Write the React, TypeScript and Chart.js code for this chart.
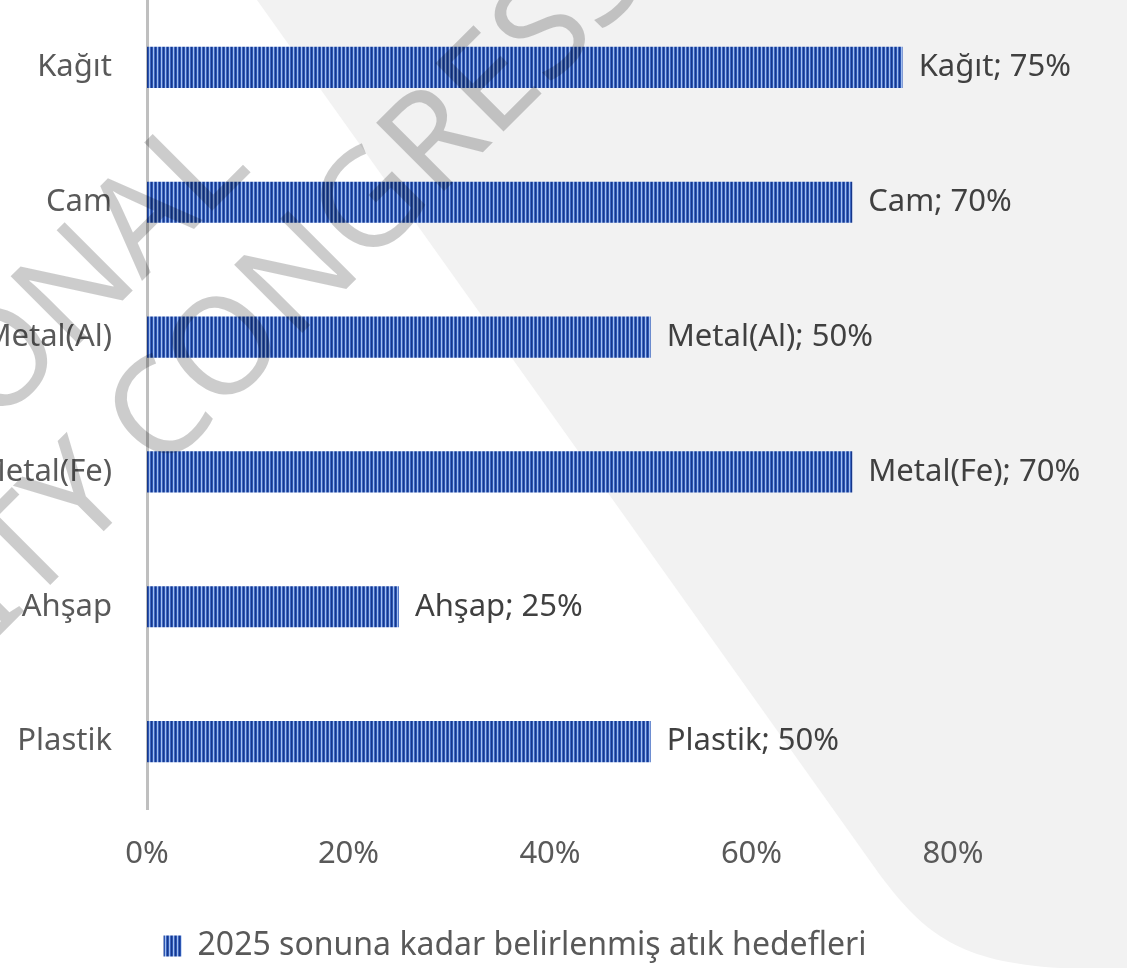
import React, { useEffect, useRef } from "react";
import { Chart, registerables } from "chart.js";

Chart.register(...registerables);

const categories = ["Kağıt", "Cam", "Metal(Al)", "Metal(Fe)", "Ahşap", "Plastik"];
const values = [75, 70, 50, 70, 25, 50];
const seriesLabel = "2025 sonuna kadar belirlenmiş atık hedefleri";
const axisMin = 0;
const axisMax = 80;
const axisStep = 20;
const watermarkLines = ["INTERNATIONAL", "UNIVERSITY CONGRESS"];

const PAGE_W = 1127;
const PAGE_H = 972;
const SHIFT = 97; // canvas starts left of the page (clipped like the source)
const CANVAS_W = PAGE_W + SHIFT;
const FONT = '"Noto Sans", "Open Sans", sans-serif';
const RIGHT_PAD = CANVAS_W - (953 + SHIFT);

function makePattern(): CanvasPattern | string {
  const c = document.createElement("canvas");
  c.width = 4;
  c.height = 1;
  const g = c.getContext("2d");
  if (!g) return "#2c56b3";
  const cols = ["#17378a", "#2c56b3", "#a3bff0", "#3e68c2"];
  cols.forEach((col, i) => {
    g.fillStyle = col;
    g.fillRect(i, 0, 1, 1);
  });
  const ctx = document.createElement("canvas").getContext("2d");
  const p = ctx ? ctx.createPattern(c, "repeat") : null;
  return p || "#2c56b3";
}

const backgroundPlugin = {
  id: "bgShape",
  beforeDraw(chart: any) {
    const ctx = chart.ctx;
    ctx.save();
    ctx.fillStyle = "#ffffff";
    ctx.fillRect(0, 0, chart.width, chart.height);
    ctx.translate(SHIFT, 0);
    ctx.fillStyle = "#f2f2f2";
    ctx.beginPath();
    ctx.moveTo(257, 0);
    ctx.lineTo(PAGE_W, 0);
    ctx.lineTo(PAGE_W, 968);
    ctx.lineTo(1060, 968);
    ctx.bezierCurveTo(960, 962, 925, 935, 880, 875);
    ctx.closePath();
    ctx.fill();
    ctx.restore();
  },
};

// centre the legend across the whole canvas (the plot keeps its right padding)
const legendCenterPlugin = {
  id: "legendCenter",
  afterLayout(chart: any) {
    if (chart.legend) {
      chart.legend.left = 0;
      chart.legend.right = chart.width;
    }
  },
};

const dataLabelPlugin = {
  id: "dataLabels",
  afterDatasetsDraw(chart: any) {
    const ctx = chart.ctx;
    const meta = chart.getDatasetMeta(0);
    ctx.save();
    ctx.font = `31px ${FONT}`;
    ctx.fillStyle = "#404040";
    ctx.textAlign = "left";
    ctx.textBaseline = "middle";
    meta.data.forEach((bar: any, i: number) => {
      const text = `${chart.data.labels[i]}; ${chart.data.datasets[0].data[i]}%`;
      ctx.fillText(text, bar.x + 16, bar.y);
    });
    ctx.restore();
  },
};

const watermarkPlugin = {
  id: "watermark",
  afterDraw(chart: any) {
    const ctx = chart.ctx;
    const size = 135;
    ctx.save();
    ctx.font = `${size}px ${FONT}`;
    ctx.fillStyle = "rgba(0,0,0,0.2)";
    ctx.textBaseline = "alphabetic";
    ctx.textAlign = "left";
    const theta = (-45 * Math.PI) / 180;
    const place = (text: string, idx: number, cx: number, cy: number) => {
      const pre = ctx.measureText(text.slice(0, idx)).width;
      const ch = ctx.measureText(text[idx]).width;
      ctx.save();
      ctx.translate(cx + SHIFT, cy);
      ctx.rotate(theta);
      ctx.fillText(text, -(pre + ch / 2), size * 0.357);
      ctx.restore();
    };
    place(watermarkLines[0], watermarkLines[0].length - 1, 194, 161);
    place(watermarkLines[1], watermarkLines[1].indexOf("C"), 156, 411);
    ctx.restore();
  },
};

export default function App() {
  const ref = useRef<HTMLCanvasElement | null>(null);

  useEffect(() => {
    if (!ref.current) return;
    const pattern = makePattern();
    const chart = new Chart(ref.current, {
      type: "bar",
      data: {
        labels: categories,
        datasets: [
          {
            label: seriesLabel,
            data: values,
            backgroundColor: pattern as any,
            borderWidth: 0,
            categoryPercentage: 1,
            barPercentage: 0.305,
          },
        ],
      },
      options: {
        indexAxis: "y",
        responsive: false,
        animation: false,
        devicePixelRatio: 1,
        layout: { padding: { left: 0, top: 0, right: RIGHT_PAD, bottom: 0 } },
        plugins: {
          tooltip: { enabled: false },
          legend: {
            position: "bottom",
            labels: {
              color: "#595959",
              font: { family: FONT, size: 32 },
              boxWidth: 18,
              boxHeight: 21,
              padding: 6,
            },
          },
        },
        scales: {
          x: {
            min: axisMin,
            max: axisMax,
            grid: { display: false, drawTicks: false },
            border: { display: false },
            ticks: {
              stepSize: axisStep,
              color: "#595959",
              font: { family: FONT, size: 31 },
              padding: 27,
              callback: (v: any) => `${v}%`,
            },
            afterFit: (scale: any) => {
              scale.height = 115;
            },
          },
          y: {
            grid: { display: false, drawTicks: false },
            border: { display: true, color: "#bfbfbf", width: 3 },
            ticks: {
              color: "#595959",
              font: { family: FONT, size: 31 },
              padding: 35,
            },
            afterFit: (scale: any) => {
              scale.width = 147 + SHIFT;
              scale.paddingTop = 0;
              scale.paddingBottom = 0;
            },
          },
        },
      },
      plugins: [backgroundPlugin, legendCenterPlugin, dataLabelPlugin, watermarkPlugin],
    });
    return () => chart.destroy();
  }, []);

  return (
    <div
      style={{
        position: "fixed",
        left: 0,
        top: 0,
        width: PAGE_W,
        height: PAGE_H,
        overflow: "hidden",
        background: "#ffffff",
      }}
    >
      <canvas
        ref={ref}
        width={CANVAS_W}
        height={PAGE_H}
        style={{ position: "absolute", left: -SHIFT, top: 0, width: CANVAS_W, height: PAGE_H }}
      />
    </div>
  );
}
